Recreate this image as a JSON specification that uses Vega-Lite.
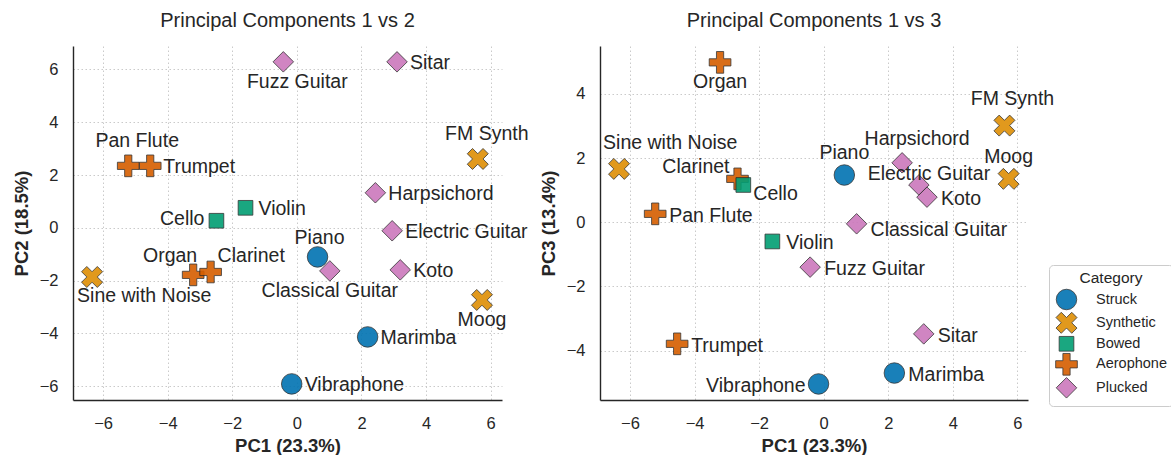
{
  "$schema": "https://vega.github.io/schema/vega-lite/v6.json",
  "padding": {"left": 12, "top": 11, "right": 0, "bottom": 0},
  "background": "white",
  "config": {
    "font": "Liberation Sans",
    "view": {"stroke": null},
    "axis": {
      "domainColor": "#262626", "domainWidth": 1.4, "ticks": false, "tickSize": 0,
      "labelFontSize": 16.5, "labelColor": "#262626", "labelPadding": 15,
      "titleFontSize": 18.5, "titleFontWeight": "bold", "titleColor": "#262626",
      "gridColor": "#c4c4c4", "gridDash": [1.5, 2.5], "gridWidth": 0.9
    },
    "axisX": {"titlePadding": 5},
    "axisY": {"titlePadding": 8},
    "title": {"fontSize": 20, "fontWeight": "normal", "color": "#262626", "offset": 15},
    "text": {"fontSize": 19.5, "color": "#262626", "baseline": "middle"}
  },
  "datasets": {
    "pca": [
      {"Instrument": "Piano", "Category": "Struck", "PC1": 0.64, "PC2": -1.1, "PC3": 1.47},
      {"Instrument": "Marimba", "Category": "Struck", "PC1": 2.19, "PC2": -4.13, "PC3": -4.7},
      {"Instrument": "Vibraphone", "Category": "Struck", "PC1": -0.16, "PC2": -5.91, "PC3": -5.04},
      {"Instrument": "FM Synth", "Category": "Synthetic", "PC1": 5.6, "PC2": 2.61, "PC3": 3.01},
      {"Instrument": "Moog", "Category": "Synthetic", "PC1": 5.73, "PC2": -2.73, "PC3": 1.35},
      {"Instrument": "Sine with Noise", "Category": "Synthetic", "PC1": -6.34, "PC2": -1.86, "PC3": 1.66},
      {"Instrument": "Trumpet", "Category": "Aerophone", "PC1": -4.54, "PC2": 2.35, "PC3": -3.79},
      {"Instrument": "Pan Flute", "Category": "Aerophone", "PC1": -5.22, "PC2": 2.35, "PC3": 0.26},
      {"Instrument": "Organ", "Category": "Aerophone", "PC1": -3.21, "PC2": -1.78, "PC3": 4.98},
      {"Instrument": "Clarinet", "Category": "Aerophone", "PC1": -2.67, "PC2": -1.67, "PC3": 1.35},
      {"Instrument": "Cello", "Category": "Bowed", "PC1": -2.49, "PC2": 0.27, "PC3": 1.16},
      {"Instrument": "Violin", "Category": "Bowed", "PC1": -1.59, "PC2": 0.76, "PC3": -0.6},
      {"Instrument": "Fuzz Guitar", "Category": "Plucked", "PC1": -0.42, "PC2": 6.29, "PC3": -1.4},
      {"Instrument": "Sitar", "Category": "Plucked", "PC1": 3.1, "PC2": 6.29, "PC3": -3.48},
      {"Instrument": "Harpsichord", "Category": "Plucked", "PC1": 2.43, "PC2": 1.33, "PC3": 1.85},
      {"Instrument": "Electric Guitar", "Category": "Plucked", "PC1": 2.95, "PC2": -0.11, "PC3": 1.16},
      {"Instrument": "Koto", "Category": "Plucked", "PC1": 3.2, "PC2": -1.59, "PC3": 0.78},
      {"Instrument": "Classical Guitar", "Category": "Plucked", "PC1": 1.02, "PC2": -1.63, "PC3": -0.05}
    ]
  },
  "spacing": 98,
  "bounds": "flush",
  "resolve": {"scale": {"color": "shared", "shape": "shared", "size": "shared"}, "legend": {"color": "shared", "shape": "shared", "size": "shared"}},
  "hconcat": [
    {
      "width": 429, "height": 354,
      "title": "Principal Components 1 vs 2",
      "data": {"name": "pca"},
      "encoding": {
        "x": {"field": "PC1", "type": "quantitative", "scale": {"domain": [-6.93, 6.35], "nice": false, "zero": false}, "axis": {"title": "PC1 (23.3%)", "values": [-6, -4, -2, 0, 2, 4, 6]}},
        "y": {"field": "PC2", "type": "quantitative", "scale": {"domain": [-6.52, 6.89], "nice": false, "zero": false}, "axis": {"title": "PC2 (18.5%)", "values": [-6, -4, -2, 0, 2, 4, 6]}}
      },
      "layer": [
        {
          "mark": {"type": "point", "filled": true, "opacity": 0.9, "stroke": "#222222", "strokeWidth": 0.8},
          "encoding": {
            "color": {"field": "Category", "type": "nominal", "scale": {"domain": ["Struck", "Synthetic", "Bowed", "Aerophone", "Plucked"], "range": ["#0173b2", "#de8f05", "#029e73", "#d55e00", "#cc78bc"]},
              "legend": {"title": "Category", "orient": "none", "legendX": 976, "legendY": 219, "titleFontSize": 15.5, "titleFontWeight": "normal", "titleColor": "#262626", "titleAnchor": "middle", "titlePadding": 2, "labelFontSize": 14.5, "labelColor": "#262626", "padding": 6, "strokeColor": "#cccccc", "cornerRadius": 4, "fillColor": "white", "rowPadding": -1.7, "labelOffset": 18, "symbolStrokeColor": "#222222", "symbolStrokeWidth": 0.8, "symbolOpacity": 0.9}},
            "shape": {"field": "Category", "type": "nominal", "scale": {"domain": ["Struck", "Synthetic", "Bowed", "Aerophone", "Plucked"], "range": ["circle", "M-0.5,-1L0,-0.5L0.5,-1L1,-0.5L0.5,0L1,0.5L0.5,1L0,0.5L-0.5,1L-1,0.5L-0.5,0L-1,-0.5Z", "square", "M-0.333,-1H0.333V-0.333H1V0.333H0.333V1H-0.333V0.333H-1V-0.333H-0.333Z", "diamond"]}},
            "size": {"field": "Category", "type": "nominal", "scale": {"type": "ordinal", "domain": ["Struck", "Synthetic", "Bowed", "Aerophone", "Plucked"], "range": [420, 441, 216, 470, 420]}}
          }
        },
        {"transform": [{"filter": {"field": "Instrument", "oneOf": ["Sitar", "Trumpet", "Violin", "Harpsichord", "Electric Guitar", "Koto", "Marimba", "Vibraphone"]}}],
         "mark": {"type": "text", "align": "left", "dx": 13, "dy": 1}, "encoding": {"text": {"field": "Instrument"}}},
        {"transform": [{"filter": {"field": "Instrument", "oneOf": ["Cello"]}}],
         "mark": {"type": "text", "align": "right", "dx": -12, "dy": -2}, "encoding": {"text": {"field": "Instrument"}}},
        {"transform": [{"filter": {"field": "Instrument", "oneOf": ["FM Synth", "Pan Flute"]}}],
         "mark": {"type": "text", "align": "center", "dx": 9, "dy": -25}, "encoding": {"text": {"field": "Instrument"}}},
        {"transform": [{"filter": {"field": "Instrument", "oneOf": ["Piano"]}}],
         "mark": {"type": "text", "align": "center", "dx": 2, "dy": -19}, "encoding": {"text": {"field": "Instrument"}}},
        {"transform": [{"filter": {"field": "Instrument", "oneOf": ["Organ"]}}],
         "mark": {"type": "text", "align": "right", "dx": 4, "dy": -19}, "encoding": {"text": {"field": "Instrument"}}},
        {"transform": [{"filter": {"field": "Instrument", "oneOf": ["Clarinet"]}}],
         "mark": {"type": "text", "align": "left", "dx": 7, "dy": -16}, "encoding": {"text": {"field": "Instrument"}}},
        {"transform": [{"filter": {"field": "Instrument", "oneOf": ["Classical Guitar", "Moog"]}}],
         "mark": {"type": "text", "align": "center", "dx": 0, "dy": 20}, "encoding": {"text": {"field": "Instrument"}}},
        {"transform": [{"filter": {"field": "Instrument", "oneOf": ["Fuzz Guitar"]}}],
         "mark": {"type": "text", "align": "center", "dx": 14, "dy": 20}, "encoding": {"text": {"field": "Instrument"}}},
        {"transform": [{"filter": {"field": "Instrument", "oneOf": ["Sine with Noise"]}}],
         "mark": {"type": "text", "align": "left", "dx": -15, "dy": 19}, "encoding": {"text": {"field": "Instrument"}}}
      ]
    },
    {
      "width": 428, "height": 354,
      "title": "Principal Components 1 vs 3",
      "data": {"name": "pca"},
      "encoding": {
        "x": {"field": "PC1", "type": "quantitative", "scale": {"domain": [-6.93, 6.33], "nice": false, "zero": false}, "axis": {"title": "PC1 (23.3%)", "values": [-6, -4, -2, 0, 2, 4, 6]}},
        "y": {"field": "PC3", "type": "quantitative", "scale": {"domain": [-5.54, 5.49], "nice": false, "zero": false}, "axis": {"title": "PC3 (13.4%)", "values": [-4, -2, 0, 2, 4]}}
      },
      "layer": [
        {
          "mark": {"type": "point", "filled": true, "opacity": 0.9, "stroke": "#222222", "strokeWidth": 0.8},
          "encoding": {
            "color": {"field": "Category", "type": "nominal", "scale": {"domain": ["Struck", "Synthetic", "Bowed", "Aerophone", "Plucked"], "range": ["#0173b2", "#de8f05", "#029e73", "#d55e00", "#cc78bc"]}},
            "shape": {"field": "Category", "type": "nominal", "scale": {"domain": ["Struck", "Synthetic", "Bowed", "Aerophone", "Plucked"], "range": ["circle", "M-0.5,-1L0,-0.5L0.5,-1L1,-0.5L0.5,0L1,0.5L0.5,1L0,0.5L-0.5,1L-1,0.5L-0.5,0L-1,-0.5Z", "square", "M-0.333,-1H0.333V-0.333H1V0.333H0.333V1H-0.333V0.333H-1V-0.333H-0.333Z", "diamond"]}},
            "size": {"field": "Category", "type": "nominal", "scale": {"type": "ordinal", "domain": ["Struck", "Synthetic", "Bowed", "Aerophone", "Plucked"], "range": [420, 441, 216, 470, 420]}}
          }
        },
        {"transform": [{"filter": {"field": "Instrument", "oneOf": ["Pan Flute", "Violin", "Trumpet", "Koto", "Fuzz Guitar", "Sitar", "Marimba"]}}],
         "mark": {"type": "text", "align": "left", "dx": 14, "dy": 2}, "encoding": {"text": {"field": "Instrument"}}},
        {"transform": [{"filter": {"field": "Instrument", "oneOf": ["Classical Guitar"]}}],
         "mark": {"type": "text", "align": "left", "dx": 14, "dy": 6}, "encoding": {"text": {"field": "Instrument"}}},
        {"transform": [{"filter": {"field": "Instrument", "oneOf": ["Vibraphone"]}}],
         "mark": {"type": "text", "align": "right", "dx": -13, "dy": 2}, "encoding": {"text": {"field": "Instrument"}}},
        {"transform": [{"filter": {"field": "Instrument", "oneOf": ["Clarinet"]}}],
         "mark": {"type": "text", "align": "right", "dx": -8, "dy": -12}, "encoding": {"text": {"field": "Instrument"}}},
        {"transform": [{"filter": {"field": "Instrument", "oneOf": ["Cello"]}}],
         "mark": {"type": "text", "align": "left", "dx": 10, "dy": 9}, "encoding": {"text": {"field": "Instrument"}}},
        {"transform": [{"filter": {"field": "Instrument", "oneOf": ["FM Synth"]}}],
         "mark": {"type": "text", "align": "center", "dx": 8, "dy": -27}, "encoding": {"text": {"field": "Instrument"}}},
        {"transform": [{"filter": {"field": "Instrument", "oneOf": ["Moog", "Piano"]}}],
         "mark": {"type": "text", "align": "center", "dx": 0, "dy": -22}, "encoding": {"text": {"field": "Instrument"}}},
        {"transform": [{"filter": {"field": "Instrument", "oneOf": ["Harpsichord"]}}],
         "mark": {"type": "text", "align": "center", "dx": 15, "dy": -24}, "encoding": {"text": {"field": "Instrument"}}},
        {"transform": [{"filter": {"field": "Instrument", "oneOf": ["Electric Guitar"]}}],
         "mark": {"type": "text", "align": "center", "dx": 10, "dy": -11}, "encoding": {"text": {"field": "Instrument"}}},
        {"transform": [{"filter": {"field": "Instrument", "oneOf": ["Sine with Noise"]}}],
         "mark": {"type": "text", "align": "left", "dx": -16, "dy": -26}, "encoding": {"text": {"field": "Instrument"}}},
        {"transform": [{"filter": {"field": "Instrument", "oneOf": ["Organ"]}}],
         "mark": {"type": "text", "align": "center", "dx": 0, "dy": 20}, "encoding": {"text": {"field": "Instrument"}}}
      ]
    }
  ]
}
